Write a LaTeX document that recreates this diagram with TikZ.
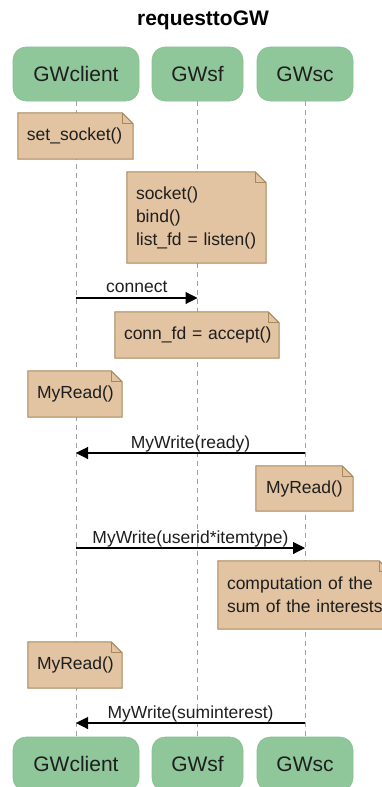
\documentclass[tikz,border=0pt]{standalone}
\usepackage{fontspec}
\setmainfont{Liberation Sans}
\usetikzlibrary{arrows.meta,calc}
\pgfdeclarelayer{background}
\pgfsetlayers{background,main}
\hbadness=10000
\hfuzz=50pt

\definecolor{partfill}{HTML}{90C79A}
\definecolor{partline}{HTML}{86BF91}
\definecolor{notefill}{HTML}{E2C3A2}
\definecolor{noteline}{HTML}{A8875A}
\definecolor{lifecol}{HTML}{A0A0A0}
\definecolor{txt}{HTML}{1E1E1E}

\tikzset{
  participant/.style={rectangle, rounded corners=13pt, fill=partfill, draw=partline,
    line width=0.6pt, minimum width=#1, minimum height=54pt, inner sep=0pt,
    text=txt, font=\fontsize{21}{25}\selectfont},
  notebox/.style={rectangle, inner xsep=9pt, inner ysep=0pt, align=left,
    text=txt, font=\fontsize{17.5}{23}\selectfont},
  noteshape/.style={fill=notefill, draw=noteline, line width=1pt, line join=miter},
  lifeline/.style={draw=lifecol, line width=0.9pt, dash pattern=on 5pt off 4pt},
  msg/.style={draw=black, line width=1.1pt, -{Triangle[length=12pt,width=12pt]}},
  msglabel/.style={anchor=base, inner sep=0pt, text=txt, font=\fontsize{17.5}{21}\selectfont},
}

% a note with a folded top-right corner, placed on the background layer
\newcommand{\foldnote}[1]{%
  \begin{pgfonlayer}{background}
    \draw[noteshape] (#1.south west) -- (#1.north west)
      -- ([xshift=-11pt]#1.north east) -- ([yshift=-11pt]#1.north east)
      -- (#1.south east) -- cycle;
    \draw[noteshape, fill=none, line width=0.8pt] ([xshift=-11pt]#1.north east)
      |- ([yshift=-11pt]#1.north east);
  \end{pgfonlayer}}

\begin{document}
\begin{tikzpicture}[x=1pt, y=-1pt]
\useasboundingbox (0,0) rectangle (382,787);

% title
\node[font=\bfseries\fontsize{21}{25}\selectfont, text=black] (title) at (203,20) {requesttoGW};

% participants, top and bottom
\node[participant=126pt] (clientT) at (76,74) {GWclient};
\node[participant=91pt]  (sfT)     at (197.5,74) {GWsf};
\node[participant=96pt]  (scT)     at (305,74) {GWsc};
\node[participant=126pt] (clientB) at (76,764) {GWclient};
\node[participant=91pt]  (sfB)     at (197.5,764) {GWsf};
\node[participant=96pt]  (scB)     at (305,764) {GWsc};

% lifelines
\begin{pgfonlayer}{background}
  \draw[lifeline] (clientT.south) -- (clientB.north);
  \draw[lifeline] (sfT.south) -- (sfB.north);
  \draw[lifeline] (scT.south) -- (scB.north);
\end{pgfonlayer}

% notes
\node[notebox, minimum width=115pt, minimum height=46pt, text width=97pt] (n1) at (75.5,136) {set\_socket()};
\foldnote{n1}
\node[notebox, minimum width=139pt, minimum height=91pt, text width=121pt] (n2) at (196.5,217.5) {socket()\\bind()\\\mbox{list\_fd = listen()}};
\foldnote{n2}
\node[notebox, minimum width=164pt, minimum height=46pt, text width=146pt] (n3) at (197,335) {\mbox{conn\_fd = accept()}};
\foldnote{n3}
\node[notebox, minimum width=94pt, minimum height=46pt, text width=76pt] (n4) at (75,394) {MyRead()};
\foldnote{n4}
\node[notebox, minimum width=95pt, minimum height=45pt, text width=77pt, inner xsep=10pt] (n5) at (304.5,488.5) {MyRead()};
\foldnote{n5}
\node[notebox, minimum width=172pt, minimum height=68pt, text width=154pt] (n6) at (304,595) {\mbox{computation of the}\\\mbox{sum of the interests}};
\foldnote{n6}
\node[notebox, minimum width=94pt, minimum height=46pt, text width=76pt] (n7) at (75,665) {MyRead()};
\foldnote{n7}

% messages
\coordinate (c1) at (clientT.south |- 0,298);
\coordinate (s1) at (sfT.south |- 0,298);
\draw[msg] (c1) -- (s1);
\node[msglabel] (l1) at ($(c1)!0.5!(s1)+(0,-5.5)$) {connect};

\coordinate (c2) at (clientT.south |- 0,453);
\coordinate (k2) at (scT.south |- 0,453);
\draw[msg] (k2) -- (c2);
\node[msglabel] (l2) at ($(c2)!0.5!(k2)+(0,-5)$) {MyWrite(ready)};

\coordinate (c3) at (clientT.south |- 0,548);
\coordinate (k3) at (scT.south |- 0,548);
\draw[msg] (c3) -- (k3);
\node[msglabel] (l3) at ($(c3)!0.5!(k3)+(0,-5)$) {MyWrite(userid*itemtype)};

\coordinate (c4) at (clientT.south |- 0,723);
\coordinate (k4) at (scT.south |- 0,723);
\draw[msg] (k4) -- (c4);
\node[msglabel] (l4) at ($(c4)!0.5!(k4)+(0,-5)$) {MyWrite(suminterest)};
\end{tikzpicture}
\end{document}
